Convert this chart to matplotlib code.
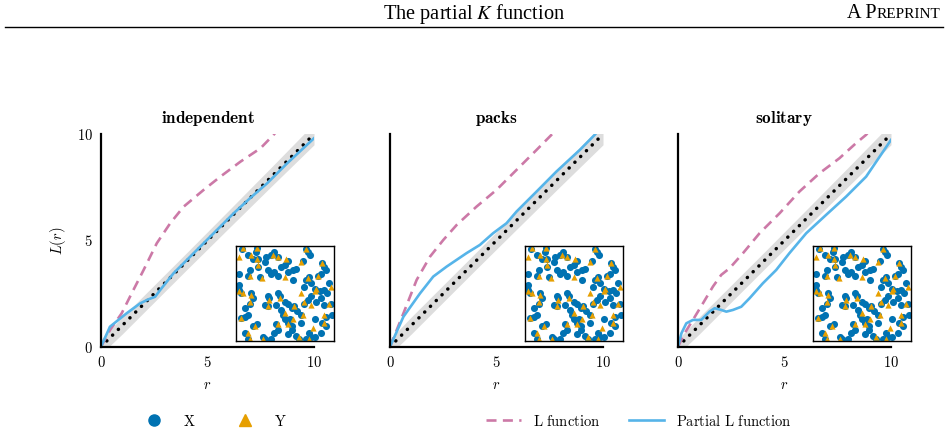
import numpy as np
import matplotlib
matplotlib.use("Agg")
import matplotlib.pyplot as plt
from matplotlib.lines import Line2D

plt.rcParams['mathtext.fontset'] = 'cm'

# ---------------- data ----------------
titles = ["independent", "packs", "solitary"]
tick_vals = [0, 5, 10]
tick_labels = ["$0$", "$5$", "$10$"]

# L function (dashed)
L_r = [
    [0.0, 0.42, 0.97, 1.44, 2.0, 2.62, 3.25, 3.88, 4.82, 5.6, 6.55, 7.49, 8.1, 8.4],
    [0.0, 0.63, 1.25, 1.88, 2.5, 3.13, 4.06, 5.0, 5.78, 6.88, 7.58, 7.9],
    [0.0, 0.31, 0.7, 1.17, 1.64, 2.03, 2.42, 3.05, 3.83, 4.77, 5.7, 6.64, 7.58, 8.36, 8.83, 9.1],
]
L_val = [
    [0.0, 0.78, 1.57, 2.51, 3.61, 4.87, 5.81, 6.59, 7.38, 8.0, 8.71, 9.34, 9.97, 10.3],
    [0.0, 1.57, 3.14, 4.24, 5.02, 5.73, 6.59, 7.38, 8.16, 9.26, 9.97, 10.3],
    [0.0, 0.63, 1.26, 2.04, 2.83, 3.38, 3.69, 4.4, 5.34, 6.28, 7.3, 8.16, 8.87, 9.58, 9.97, 10.3],
]

# Partial L function (solid)
P_r = [
    [0.0, 0.42, 1.2, 1.84, 2.23, 2.54, 2.78, 3.4, 4.35, 5.29, 6.23, 7.0, 7.8, 8.74, 10.0],
    [0.0, 0.63, 1.41, 2.03, 2.66, 3.59, 4.22, 4.84, 5.47, 5.94, 6.88, 7.81, 8.91, 9.61, 9.9],
    [0.0, 0.16, 0.39, 0.7, 1.09, 1.48, 1.72, 2.03, 2.27, 2.58, 2.97, 3.36, 3.98, 4.61,
     5.23, 6.02, 6.95, 7.89, 8.83, 10.0],
]
P_val = [
    [0.0, 0.94, 1.57, 2.04, 2.23, 2.35, 2.67, 3.45, 4.4, 5.34, 6.28, 6.99, 7.69, 8.63, 9.81],
    [0.0, 1.41, 2.51, 3.3, 3.77, 4.4, 4.79, 5.34, 5.81, 6.36, 7.3, 8.24, 9.26, 9.97, 10.3],
    [0.0, 0.63, 1.1, 1.26, 1.26, 1.65, 1.81, 1.73, 1.65, 1.73, 1.88, 2.28, 2.98, 3.61,
     4.4, 5.34, 6.2, 7.06, 8.0, 9.73],
]

# simulation envelope around theoretical L(r) = r
env_r = [0, 1, 2, 4, 6, 8, 10]
env_half = [0.35, 0.4, 0.4, 0.4, 0.42, 0.45, 0.5]

# point pattern (inset)
X_x = [0.6, 2.1, 2.0, 1.2, 1.7, 2.2, 3.1, 3.6, 3.9, 4.3, 5.3, 5.0, 4.6, 5.3, 5.8, 6.2,
       7.2, 7.4, 7.6, 6.9, 8.9, 9.1, 9.3, 0.2, 1.4, 1.2, 2.4, 3.3, 3.6, 3.9, 4.3, 5.8,
       7.5, 7.2, 8.4, 8.7, 7.7, 7.0, 8.1, 8.6, 9.1, 9.6, 9.4, 0.2, 0.3, 0.5, 1.5, 1.7,
       1.4, 3.3, 3.4, 4.3, 4.5, 5.0, 5.3, 4.1, 3.3, 2.9, 4.6, 5.7, 6.0, 6.3, 6.7, 7.0,
       7.4, 7.7, 8.2, 8.7, 9.1, 9.8, 0.9, 0.9, 0.5, 1.2, 4.8, 5.0, 5.3, 5.7, 5.5, 4.1,
       6.7, 8.1, 9.3, 9.9, 8.9, 9.3, 8.7, 0.9, 1.2, 1.7, 2.1, 2.7, 2.9, 3.6, 3.9, 4.3,
       5.3, 5.7, 6.2, 6.5, 7.5, 7.7, 7.2, 8.1, 2.2, 2.9]
X_y = [9.8, 9.9, 9.4, 9.1, 8.7, 8.7, 8.9, 9.1, 9.4, 8.9, 8.5, 8.0, 7.8, 7.3, 7.5, 7.6,
       9.8, 9.4, 9.1, 8.5, 8.2, 7.8, 7.5, 7.1, 7.5, 6.9, 6.8, 7.5, 7.1, 7.3, 6.9, 6.4,
       6.8, 6.4, 6.9, 7.1, 6.1, 5.7, 5.5, 5.2, 5.4, 6.1, 5.0, 5.9, 5.4, 5.0, 5.0, 4.5,
       3.9, 4.7, 4.5, 5.0, 4.7, 4.1, 3.9, 3.8, 3.6, 3.8, 3.2, 3.4, 3.6, 3.1, 2.7, 3.9,
       4.3, 4.7, 4.1, 4.5, 3.8, 3.9, 3.4, 2.5, 2.4, 2.7, 2.7, 2.2, 1.8, 1.5, 2.2, 1.7,
       1.8, 2.2, 2.5, 2.7, 1.8, 1.5, 0.8, 0.8, 0.1, 1.5, 1.7, 0.3, 0.1, 0.1, 0.8, 1.1,
       0.6, 1.1, 0.4, 0.1, 0.8, 0.3, 0.1, 0.3, 7.8, 8.4]
Y_x = [0.2, 0.7, 2.1, 1.5, 2.1, 2.2, 1.4, 0.2, 0.7, 1.5, 1.4, 0.5, 1.4, 2.7, 3.4, 3.3,
       4.5, 5.0, 5.3, 4.3, 6.0, 7.0, 6.9, 7.5, 7.4, 6.7, 7.2, 4.3, 5.0, 2.6, 8.2, 8.4,
       8.9, 9.8, 9.1, 6.7, 5.1, 3.8, 1.9, 1.2, 6.5, 9.1, 7.9, 5.8, 8.1, 7.7, 9.6]
Y_y = [8.9, 9.9, 9.9, 9.1, 8.7, 8.0, 6.9, 5.2, 5.0, 4.8, 4.1, 2.4, 0.1, 0.1, 4.3, 3.6,
       4.5, 2.9, 1.7, 1.7, 3.6, 4.1, 2.7, 0.1, 6.6, 8.4, 9.8, 8.9, 6.8, 6.6, 5.5, 6.9,
       8.2, 5.7, 2.7, 5.0, 8.7, 9.1, 1.5, 0.8, 0.3, 1.8, 1.3, 2.2, 5.2, 3.8, 3.9]

# ---------------- colours ----------------
c_X = "#0072B2"
c_Y = "#E69F00"
c_L = "#CC79A7"
c_P = "#56B4E9"
c_band = "#dddddd"

W, H = 948, 434
fig = plt.figure(figsize=(W / 100, H / 100), dpi=100)

# header
fig.text(474 / W, 1 - 14 / H, "The partial $K$ function", ha="center", va="center",
         fontfamily="Liberation Serif", math_fontfamily="stix", fontsize=14.7)
t2 = fig.text(940 / W, 1 - 14 / H, "REPRINT", ha="right", va="center",
              fontfamily="Liberation Serif", fontsize=11)
fig.canvas.draw()
bb = t2.get_window_extent(fig.canvas.get_renderer())
fig.text(bb.x0 / W, 1 - 14 / H, "A P", ha="right", va="center",
         fontfamily="Liberation Serif", fontsize=14.5)
fig.add_artist(Line2D([5 / W, 943 / W], [1 - 27 / H, 1 - 27 / H], color="black", lw=1.0))

lefts = [101 / W, 390 / W, 678 / W]
bottom = (H - 346.7) / H
aw, ah = 213 / W, 212.5 / H

env_r_a = np.array(env_r, dtype=float)
env_h_a = np.array(env_half, dtype=float)

for i in range(3):
    ax = fig.add_axes([lefts[i], bottom, aw, ah])
    ax.fill_between(env_r_a, env_r_a - env_h_a, env_r_a + env_h_a, color=c_band, lw=0)
    ax.plot(tick_vals[::2], tick_vals[::2], color="black", lw=2.5,
            linestyle=(0, (0.05, 2.3)), dash_capstyle="round")
    ax.plot(L_r[i], L_val[i], color=c_L, lw=1.9, linestyle=(0, (3.8, 2.4)))
    ax.plot(P_r[i], P_val[i], color=c_P, lw=1.9)
    ax.set_xlim(0, 10)
    ax.set_ylim(0, 10)
    for s in ["top", "right"]:
        ax.spines[s].set_visible(False)
    for s in ["left", "bottom"]:
        ax.spines[s].set_linewidth(1.6)
        ax.spines[s].set_color("black")
    ax.set_xticks(tick_vals)
    ax.set_xticklabels(tick_labels)
    ax.set_yticks(tick_vals)
    if i == 0:
        ax.set_yticklabels(tick_labels)
        ax.set_ylabel("$L(r)$", fontsize=10.5, labelpad=6)
    else:
        ax.set_yticklabels([])
    ax.tick_params(length=0, pad=6, labelsize=10.5)
    ax.set_title(r"$\mathbf{" + titles[i] + "}$", fontsize=12.4, pad=8)
    ax.set_xlabel("$r$", fontsize=10.5, labelpad=5)

    ins = ax.inset_axes([0.632, 0.027, 0.462, 0.448])
    ins.scatter(X_x, X_y, s=26, color=c_X, lw=0)
    ins.scatter(Y_x, Y_y, s=20, marker="^", color=c_Y, lw=0)
    ins.set_xlim(-0.1, 10.1)
    ins.set_ylim(-0.1, 10.1)
    ins.set_xticks([])
    ins.set_yticks([])
    for s in ins.spines.values():
        s.set_linewidth(1.0)
        s.set_color("black")

# legends
h1 = [Line2D([], [], marker="o", color=c_X, ls="none", markersize=8),
      Line2D([], [], marker="^", color=c_Y, ls="none", markersize=8)]
fig.legend(h1, [r"$\mathrm{X}$", r"$\mathrm{Y}$"], loc="center left",
           bbox_to_anchor=(136 / W, 13 / H), ncol=2, frameon=False,
           handlelength=2.4, handletextpad=0.8, columnspacing=2.2,
           fontsize=10.5, borderaxespad=0, borderpad=0)
h2 = [Line2D([], [], color=c_L, lw=1.9, linestyle=(0, (3.8, 2.4))),
      Line2D([], [], color=c_P, lw=1.9)]
fig.legend(h2, [r"$\mathrm{L\ function}$", r"$\mathrm{Partial\ L\ function}$"],
           loc="center left", bbox_to_anchor=(486 / W, 13 / H), ncol=2,
           frameon=False, handlelength=2.4, handletextpad=0.8, columnspacing=2.0,
           fontsize=10.5, borderaxespad=0, borderpad=0)

fig.savefig("out.png", dpi=100)
